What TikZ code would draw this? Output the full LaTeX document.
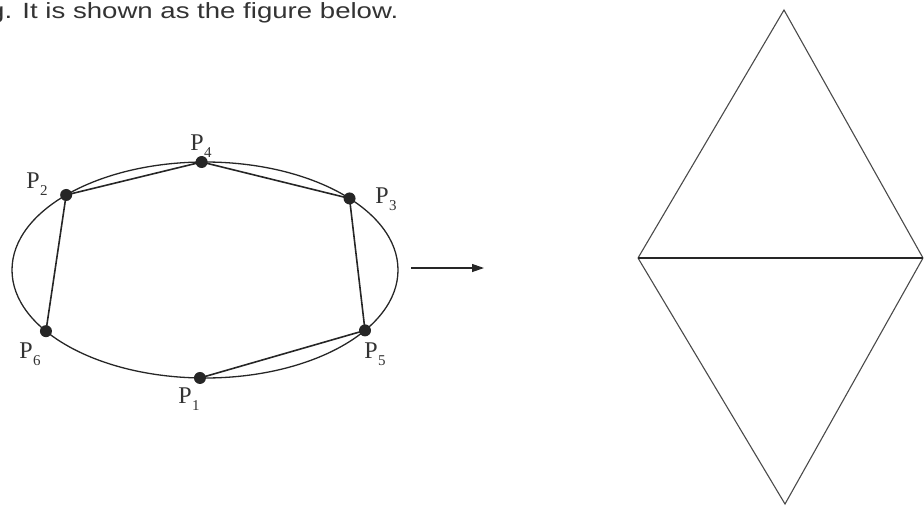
\documentclass[tikz,border=0pt]{standalone}
\usepackage{fontspec}
\usepackage{graphicx}
\setmainfont{Liberation Serif}
\newfontfamily\headfont{Liberation Sans}
\usetikzlibrary{arrows.meta}
\definecolor{ink}{HTML}{262626}
\definecolor{txt}{HTML}{333333}
\definecolor{thin}{HTML}{4A4A4A}
\tikzset{
  x=1pt, y=1pt,
  dot/.style={circle, fill=ink, inner sep=0pt, minimum size=12pt},
  plabel/.style={text=txt, inner sep=0pt, font=\fontsize{24}{27}\selectfont},
  chord/.style={draw=ink, line width=1.6pt},
  curve/.style={draw=ink, line width=1.3pt},
  edge/.style={draw=thin, line width=1.1pt},
  midline/.style={draw=ink, line width=2.4pt},
}
\newcommand{\Plab}[1]{P\kern0.5pt\raisebox{-0.3em}{\fontsize{15}{16}\selectfont #1}}
\begin{document}
\begin{tikzpicture}
\useasboundingbox (0,0) rectangle (924,-506);
% heading
\node[anchor=base west, inner sep=0pt, text=txt] (head) at (-11,-19)
  {\resizebox{409pt}{\height}{\headfont\fontsize{22}{26}\selectfont g. It is shown as the figure below.}};
% ellipse
\draw[curve] (205,-270) ellipse [x radius=193, y radius=108];
% points on the ellipse
\node[dot] (p1) at ({205+193*cos(268.5)},{-270+108*sin(268.5)}) {};
\node[dot] (p2) at ({205+193*cos(136)},{-270+108*sin(136)}) {};
\node[dot] (p3) at ({205+193*cos(41.5)},{-270+108*sin(41.5)}) {};
\node[dot] (p4) at ({205+193*cos(91)},{-270+108*sin(91)}) {};
\node[dot] (p5) at ({205+193*cos(326)},{-270+108*sin(326)}) {};
\node[dot] (p6) at ({205+193*cos(214.5)},{-270+108*sin(214.5)}) {};
% chords
\draw[chord] (p2.center) -- (p4.center);
\draw[chord] (p4.center) -- (p3.center);
\draw[chord] (p2.center) -- (p6.center);
\draw[chord] (p3.center) -- (p5.center);
\draw[chord] (p5.center) -- (p1.center);
% labels
\node[plabel] (l1) at (189,-399) {\Plab{1}};
\node[plabel] (l2) at (37,-184) {\Plab{2}};
\node[plabel] (l3) at (386,-199) {\Plab{3}};
\node[plabel] (l4) at (201,-146) {\Plab{4}};
\node[plabel] (l5) at (375,-354) {\Plab{5}};
\node[plabel] (l6) at (30,-354) {\Plab{6}};
% arrow
\coordinate (a0) at (411,-268);
\coordinate (a1) at (484,-268);
\draw[draw=ink, line width=1.2pt, -{Triangle[length=12pt,width=8pt]}] (a0) -- (a1);
% diamond
\coordinate (dt) at (784,-10);
\coordinate (dl) at (638,-258);
\coordinate (dr) at (923,-258);
\coordinate (db) at (785,-504);
\draw[edge, line join=miter] (dl) -- (dt) -- (dr);
\draw[edge] (dl) -- (db) -- (dr);
\draw[midline] (dl) -- (dr);
\end{tikzpicture}
\end{document}
